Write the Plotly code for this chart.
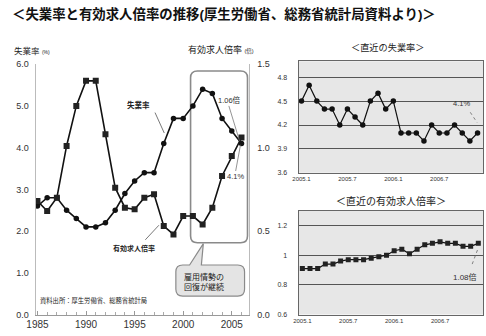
import plotly.graph_objects as go

W, H = 486, 336
JP = "Liberation Sans, Noto Sans CJK JP, sans-serif"

# ---- long-term annual series (1985-2006) ----
years = list(range(1985, 2007))
unemployment_rate = [2.6, 2.8, 2.8, 2.5, 2.3, 2.1, 2.1, 2.2, 2.5, 2.9, 3.2,
                     3.4, 3.4, 4.1, 4.7, 4.7, 5.0, 5.4, 5.3, 4.7, 4.4, 4.1]
job_ratio = [0.68, 0.62, 0.70, 1.01, 1.25, 1.40, 1.40, 1.08, 0.76, 0.64, 0.63,
             0.70, 0.72, 0.53, 0.48, 0.59, 0.59, 0.54, 0.64, 0.83, 0.95, 1.06]
year_ticks = [1985, 1990, 1995, 2000, 2005]

# ---- recent monthly series (2005.1 - 2006.12) ----
months = list(range(24))
month_ticks = [0, 6, 12, 18]
month_labels = ["2005.1", "2005.7", "2006.1", "2006.7"]
recent_unemployment = [4.5, 4.7, 4.5, 4.4, 4.4, 4.2, 4.4, 4.3, 4.2, 4.5, 4.6, 4.4,
                       4.5, 4.1, 4.1, 4.1, 4.0, 4.2, 4.1, 4.1, 4.2, 4.1, 4.0, 4.1]
recent_job_ratio = [0.91, 0.91, 0.91, 0.94, 0.94, 0.96, 0.97, 0.97, 0.97, 0.98, 0.99, 1.00,
                    1.03, 1.04, 1.01, 1.04, 1.07, 1.08, 1.09, 1.08, 1.08, 1.06, 1.06, 1.08]


def fx(p):
    return p / W


def fy(p):
    return 1 - p / H


def rounded_box(x0, y0, x1, y1, r, tail=None):
    """SVG path (paper units) for a rounded box given in pixels; optional tail on top edge."""
    pts = [f"M{fx(x0 + r)},{fy(y0)}"]
    if tail:
        tb0, tb1, tx, ty = tail
        pts += [f"L{fx(tb0)},{fy(y0)}", f"L{fx(tx)},{fy(ty)}", f"L{fx(tb1)},{fy(y0)}"]
    pts += [
        f"L{fx(x1 - r)},{fy(y0)}", f"Q{fx(x1)},{fy(y0)} {fx(x1)},{fy(y0 + r)}",
        f"L{fx(x1)},{fy(y1 - r)}", f"Q{fx(x1)},{fy(y1)} {fx(x1 - r)},{fy(y1)}",
        f"L{fx(x0 + r)},{fy(y1)}", f"Q{fx(x0)},{fy(y1)} {fx(x0)},{fy(y1 - r)}",
        f"L{fx(x0)},{fy(y0 + r)}", f"Q{fx(x0)},{fy(y0)} {fx(x0 + r)},{fy(y0)}", "Z",
    ]
    return " ".join(pts)


fig = go.Figure()

# long-term chart
fig.add_trace(go.Scatter(
    x=years, y=unemployment_rate, mode="lines+markers", xaxis="x", yaxis="y",
    line=dict(color="#111", width=1.6),
    marker=dict(symbol="circle", size=5.5, color="#111"), showlegend=False))
fig.add_trace(go.Scatter(
    x=years, y=job_ratio, mode="lines+markers", xaxis="x", yaxis="y2",
    line=dict(color="#111", width=1.6),
    marker=dict(symbol="square", size=6, color="#222"), showlegend=False))

# recent unemployment
fig.add_trace(go.Scatter(
    x=months, y=recent_unemployment, mode="lines+markers", xaxis="x3", yaxis="y3",
    line=dict(color="#111", width=1.2),
    marker=dict(symbol="circle", size=5.5, color="#111"), showlegend=False))
# recent job ratio
fig.add_trace(go.Scatter(
    x=months, y=recent_job_ratio, mode="lines+markers", xaxis="x4", yaxis="y4",
    line=dict(color="#111", width=1.2),
    marker=dict(symbol="square", size=5, color="#222"), showlegend=False))

tick_font = dict(family="Liberation Sans, sans-serif", color="#333")

fig.update_layout(
    width=W, height=H, autosize=False,
    margin=dict(l=0, r=0, t=0, b=0),
    paper_bgcolor="white", plot_bgcolor="rgba(0,0,0,0)",
    font=dict(family=JP, color="#222"),
    xaxis=dict(domain=[fx(27), fx(245)], range=[1984.8, 2006.82], anchor="y",
               tickvals=year_ticks, showgrid=False, zeroline=False,
               showline=True, linecolor="#999", linewidth=1,
               ticks="inside", ticklen=4, tickcolor="#999",
               minor=dict(dtick=1, ticks="inside", ticklen=3, tickcolor="#aaa"),
               tickfont=dict(size=10, **tick_font)),
    yaxis=dict(domain=[fy(319), fy(61)], range=[0, 6], dtick=1, tickformat=".1f",
               anchor="x", showgrid=False, zeroline=False,
               showline=True, linecolor="#bbb", linewidth=1,
               ticklabelstandoff=4, tickfont=dict(size=9, **tick_font)),
    yaxis2=dict(overlaying="y", side="right", range=[0, 1.5], dtick=0.5,
                tickformat=".1f", anchor="x", showgrid=False, zeroline=False,
                showline=True, linecolor="#bbb", linewidth=1,
                ticklabelstandoff=5, tickfont=dict(size=9, **tick_font)),
    xaxis3=dict(domain=[fx(295), fx(483)], range=[-0.385, 23.72], anchor="y3",
                tickvals=month_ticks, ticktext=month_labels, showgrid=False,
                zeroline=False, showline=True, mirror=True, linecolor="#666",
                linewidth=1, tickfont=dict(size=6, **tick_font)),
    yaxis3=dict(domain=[fy(173), fy(58)], range=[3.6, 5.0],
                tickvals=[3.6, 3.9, 4.2, 4.5, 4.8], ticktext=["3.6", "3.9", "4.2", "4.5", "4.8"],
                anchor="x3", showgrid=True, gridcolor="#555", gridwidth=0.8,
                zeroline=False, showline=True, mirror=True, linecolor="#666", linewidth=1,
                ticklabelstandoff=9, tickfont=dict(size=7, **tick_font)),
    xaxis4=dict(domain=[fx(295), fx(483)], range=[-0.5, 23.62], anchor="y4",
                tickvals=month_ticks, ticktext=month_labels, showgrid=False,
                zeroline=False, showline=True, mirror=True, linecolor="#666",
                linewidth=1, tickfont=dict(size=6, **tick_font)),
    yaxis4=dict(domain=[fy(319), fy(212)], range=[0.6, 1.3],
                tickvals=[0.6, 0.8, 1.0, 1.2], ticktext=["0.6", "0.8", "1", "1.2"],
                anchor="x4", showgrid=True, gridcolor="#555", gridwidth=0.8,
                zeroline=False, showline=True, mirror=True, linecolor="#666", linewidth=1,
                ticklabelstandoff=9, tickfont=dict(size=7, **tick_font)),
)

shapes = [
    # screened backgrounds of the two recent charts
    dict(type="rect", xref="x3 domain", yref="y3 domain", x0=0, x1=1, y0=0, y1=1,
         fillcolor="#e7e7e7", line=dict(width=0), layer="below"),
    dict(type="rect", xref="x4 domain", yref="y4 domain", x0=0, x1=1, y0=0, y1=1,
         fillcolor="#e7e7e7", line=dict(width=0), layer="below"),
    # highlighted recovery period
    dict(type="path", xref="paper", yref="paper", path=rounded_box(185, 68, 243, 245, 7),
         line=dict(color="#8a8a8a", width=1.6), fillcolor="rgba(0,0,0,0)", layer="below"),
    # speech bubble
    dict(type="path", xref="paper", yref="paper",
         path=rounded_box(170, 268, 240, 300, 7, tail=(184, 196, 198, 246)),
         line=dict(color="#8a8a8a", width=1.2), fillcolor="#e4e4e4", layer="above"),
    # leader lines, long-term chart
    dict(type="line", xref="x", yref="y", x0=1997.1, y0=4.84, x1=1998.05, y1=4.35,
         line=dict(color="#555", width=0.8)),
    dict(type="line", xref="x", yref="y", x0=1996.1, y0=1.79, x1=1997.5, y1=2.14,
         line=dict(color="#555", width=0.8)),
    dict(type="line", xref="x", yref="y", x0=2004.7, y0=5.0, x1=2005.8, y1=4.16,
         line=dict(color="#666", width=0.7)),
    dict(type="line", xref="x", yref="y", x0=2005.4, y0=3.44, x1=2005.9, y1=4.07,
         line=dict(color="#666", width=0.7)),
    # dotted leader lines, recent charts
    dict(type="line", xref="x3", yref="y3", x0=22.05, y0=4.36, x1=22.95, y1=4.23,
         line=dict(color="#666", width=0.8, dash="dot")),
    dict(type="line", xref="x4", yref="y4", x0=22.2, y0=0.94, x1=23.0, y1=1.05,
         line=dict(color="#666", width=0.8, dash="dot")),
]
fig.update_layout(shapes=shapes)


def note(text, x, y, size, xref="paper", yref="paper", xanchor="center", color="#222", **kw):
    fig.add_annotation(text=text, x=x, y=y, xref=xref, yref=yref, xanchor=xanchor,
                       yanchor="middle", showarrow=False,
                       font=dict(size=size, color=color, family=JP), **kw)


note("<b>＜失業率と有効求人倍率の推移(厚生労働省、総務省統計局資料より)＞</b>",
     fx(1), fy(9), 13.4, xanchor="left", color="#111")
note("失業率 <span style='font-size:5px'>(%)</span>", fx(3), fy(47), 8.5, xanchor="left")
note("有効求人倍率 <span style='font-size:5.5px'>(倍)</span>", fx(180), fy(46), 9,
     xanchor="left")
note("＜直近の失業率＞", fx(386), fy(44), 9.2)
note("＜直近の有効求人倍率＞", fx(389), fy(202), 10)

note("<b>失業率</b>", 1995.4, 5.02, 7.5, xref="x", yref="y")
note("<b>有効求人倍率</b>", 1994.9, 1.58, 7, xref="x", yref="y")
note("1.06倍", 2004.8, 5.14, 7.5, xref="x", yref="y", color="#333")
note("4.1%", 2004.3, 3.30, 7.5, xref="x", yref="y", color="#333", xanchor="left")
note("資料出所：厚生労働省、総務省統計局", 1985.1, 0.33, 6.3, xref="x", yref="y",
     xanchor="left")
note("雇用情勢の<br>回復が継続", fx(199), fy(285), 8)
note("4.1%", 20.9, 4.47, 7.5, xref="x3", yref="y3", color="#333")
note("1.08倍", 21.3, 0.85, 8, xref="x4", yref="y4", color="#333")

fig.write_html("out.html")
